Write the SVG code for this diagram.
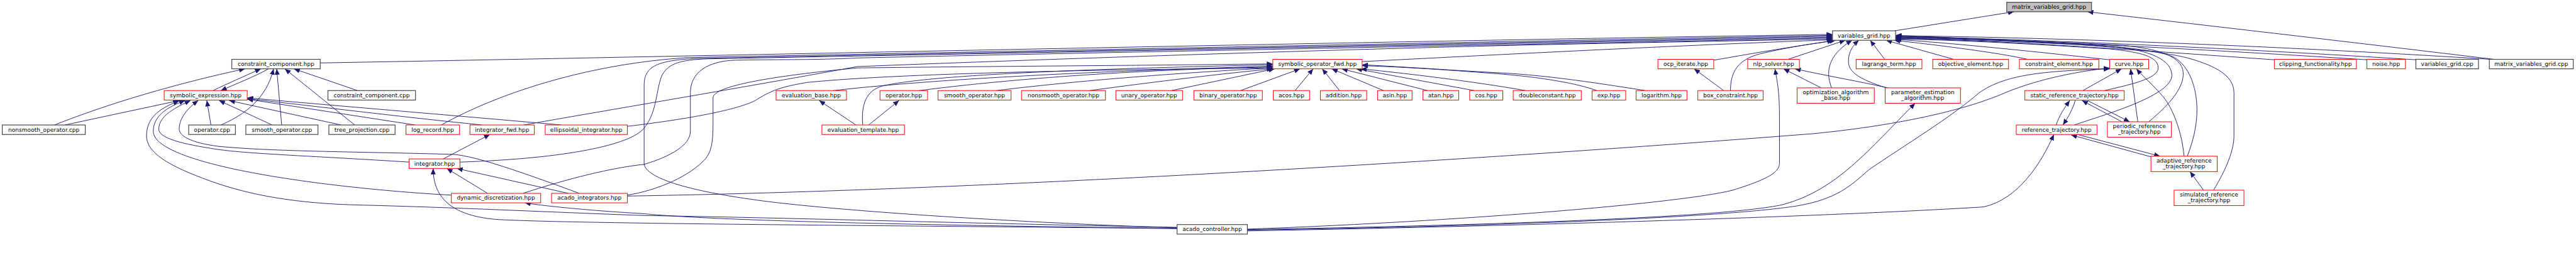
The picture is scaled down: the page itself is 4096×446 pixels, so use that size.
<svg xmlns="http://www.w3.org/2000/svg" width="4096" height="446" viewBox="0 0 4096 446">
<defs>
<marker id="ah" markerUnits="userSpaceOnUse" markerWidth="14" markerHeight="11" refX="13" refY="5.5" orient="auto"><path d="M0,0 L13,5.5 L0,11 z" fill="#191970"/></marker>
<style>
.nd rect{fill:#fff;stroke:#ff0000;stroke-width:1.4}
.nd.k rect{stroke:#404040;stroke-width:1.6}
.nd.root rect{fill:#bfbfbf;stroke:#404040;stroke-width:1.6}
.nd text{font-family:"DejaVu Sans","Liberation Sans",sans-serif;font-size:12.6px;text-anchor:middle;fill:#000}
#edges path{fill:none;stroke:#191970;stroke-width:1.3;marker-end:url(#ah)}
</style>
</defs>
<rect width="4096" height="446" fill="#fff"/>
<g transform="scale(0.72125)">
<g id="edges">
<path d="M4177,68 C4260,55 4350,40 4440,26"/>
<path d="M5498,131 C5200,95 4900,60 4602,26"/>
<path d="M706,139 C1500,125 3000,92 4040,76"/>
<path d="M973,276 C1100,205 1300,140 1520,127 C2300,112 3300,92 4040,78"/>
<path d="M2595,503 C2300,494 1900,470 1700,446 C1530,425 1420,395 1420,360 L1420,190 C1420,150 1440,133 1540,129 C2300,114 3300,95 4040,80"/>
<path d="M1014,358 C1250,350 1390,320 1420,283 C1450,245 1445,200 1460,165 C1475,140 1500,132 1560,130 C2300,116 3300,97 4040,82"/>
<path d="M1153,427 C1250,395 1350,370 1420,363 C1480,345 1522,320 1522,290 L1522,205 C1522,160 1560,135 1620,133 C1700,131 1800,133 1890,128 C2600,112 3400,98 4040,84"/>
<path d="M1155,276 C1300,250 1600,200 1890,147 C2300,131 2800,114 3300,101 C3600,94 3900,89 4040,86"/>
<path d="M3003,136 C3300,121 3700,100 4040,88"/>
<path d="M3778,133 C3880,115 3970,100 4042,90"/>
<path d="M3815,200 C3815,160 3830,132 3880,119 C3950,102 4010,95 4047,89"/>
<path d="M3800,200 L3735,152"/>
<path d="M3942,131 L4068,89"/>
<path d="M4015,194 L3932,152"/>
<path d="M4038,194 C4020,150 4040,115 4083,89"/>
<path d="M4162,194 C4100,180 4030,168 3957,152"/>
<path d="M4158,194 C4100,175 4075,160 4075,135 C4075,115 4085,100 4098,89"/>
<path d="M4155,131 L4123,89"/>
<path d="M4307,131 L4158,89"/>
<path d="M4470,131 C4400,115 4250,97 4176,89"/>
<path d="M4651,132 C4450,110 4300,95 4179,87"/>
<path d="M5014,132 C4700,110 4400,88 4179,85"/>
<path d="M5218,132 C4800,105 4400,86 4179,83"/>
<path d="M5327,132 C4900,105 4450,85 4179,81"/>
<path d="M5490,131 C5000,100 4500,82 4179,79"/>
<path d="M4640,200 C4690,188 4758,175 4758,150 C4758,125 4720,115 4650,108 C4450,95 4300,88 4179,86"/>
<path d="M4573,276 C4650,250 4790,210 4788,165 C4786,125 4720,108 4650,102 C4450,92 4300,86 4179,84"/>
<path d="M4737,269 C4790,225 4815,190 4813,160 C4811,125 4760,108 4680,100 C4450,88 4300,84 4179,82"/>
<path d="M4822,345 C4840,300 4845,260 4843,230 C4840,180 4820,140 4790,125 C4740,105 4600,93 4179,80"/>
<path d="M4880,420 C4910,370 4925,330 4925,300 L4925,205 C4925,165 4880,145 4830,130 C4760,110 4600,95 4179,78"/>
<path d="M4592,200 L4677,152"/>
<path d="M4713,269 L4697,152"/>
<path d="M4815,345 C4810,290 4790,240 4770,215 C4745,185 4725,170 4710,152"/>
<path d="M1383,433 C2200,420 3300,350 4000,295 C4200,275 4340,240 4420,205 C4480,180 4560,160 4651,150"/>
<path d="M2750,508 C3300,500 3800,480 3960,455 C4050,440 4080,410 4120,375 C4200,320 4300,260 4363,205 C4420,165 4500,157 4651,152"/>
<path d="M2750,507 C3300,497 3800,480 3930,452 C4050,420 4120,330 4222,228"/>
<path d="M2750,506 C3200,490 3700,450 3820,420 C3900,395 3923,380 3923,360 L3923,260 C3923,200 3918,180 3913,152"/>
<path d="M2750,510 C3300,500 4000,480 4373,457 C4450,440 4500,360 4528,297"/>
<path d="M4533,276 C4540,255 4550,240 4563,222"/>
<path d="M4575,222 C4570,240 4560,258 4548,276"/>
<path d="M4678,269 L4590,222"/>
<path d="M4602,222 L4695,269"/>
<path d="M4580,297 L4762,345"/>
<path d="M4748,348 L4566,298"/>
<path d="M4858,420 L4828,379"/>
<path d="M143,276 L395,222"/>
<path d="M120,276 C300,205 480,165 540,152"/>
<path d="M470,200 C500,185 540,168 575,152"/>
<path d="M592,152 C560,170 520,185 487,200"/>
<path d="M487,276 C560,245 592,200 603,152"/>
<path d="M621,276 L610,152"/>
<path d="M782,276 L628,152"/>
<path d="M788,200 L648,152"/>
<path d="M600,276 L483,222"/>
<path d="M752,276 L505,222"/>
<path d="M915,276 L545,219"/>
<path d="M1063,276 C900,260 700,235 545,218"/>
<path d="M1237,276 C1000,255 700,230 545,216"/>
<path d="M465,276 L456,222"/>
<path d="M2595,502 C2200,495 1700,480 1420,476 C1200,468 1000,458 800,453 C650,450 550,430 470,402 C380,370 323,340 323,300 C323,255 360,236 395,223"/>
<path d="M995,431 C800,420 600,395 480,365 C400,345 338,320 338,290 C338,255 370,236 408,222"/>
<path d="M902,358 C700,345 550,340 480,330 C400,318 350,305 350,285 C350,255 390,236 420,222"/>
<path d="M1277,427 C1150,380 1050,345 1000,341 C800,335 600,335 480,323 C420,315 395,300 395,285 C395,260 415,238 437,222"/>
<path d="M977,351 L1080,297"/>
<path d="M1075,427 L985,372"/>
<path d="M1253,427 L1007,372"/>
<path d="M2595,505 C2000,498 1300,495 1100,485 C1000,478 955,440 955,372"/>
<path d="M2595,504 C2200,500 1600,490 1420,472 C1300,465 1200,455 1157,448"/>
<path d="M1887,276 L1806,222"/>
<path d="M1915,276 L1982,222"/>
<path d="M1902,276 C1898,230 1910,200 1945,190 C2050,165 2400,152 2806,143"/>
<path d="M1838,200 C2100,170 2500,155 2806,146"/>
<path d="M2027,200 C2300,165 2600,152 2806,148"/>
<path d="M2197,200 C2400,175 2650,158 2806,150"/>
<path d="M2403,200 C2550,180 2700,162 2806,152"/>
<path d="M2583,200 L2810,152"/>
<path d="M2735,200 L2866,152"/>
<path d="M2855,200 L2895,152"/>
<path d="M2953,200 L2915,152"/>
<path d="M3050,200 L2936,152"/>
<path d="M3147,200 L2958,152"/>
<path d="M3250,200 L2990,152"/>
<path d="M3363,200 C3250,180 3100,162 3000,152"/>
<path d="M3520,200 C3480,185 3400,170 3290,162 C3200,155 3100,148 3003,145"/>
<path d="M3627,200 C3500,180 3400,165 3290,160 C3200,155 3100,148 3003,143"/>
<path d="M1383,279 C1500,265 1620,245 1665,222 C1700,200 1720,192 1780,182 C2000,160 2500,153 2806,150"/>
<path d="M1383,431 C1450,420 1520,390 1556,350 C1572,330 1572,300 1572,260 L1572,215 C1575,190 1700,168 1890,150 C2200,146 2500,145 2806,141"/>
</g>
<g id="n1" class="nd root"><rect x="4424" y="5" width="187" height="21"/><text x="4517.5" y="19.5">matrix_variables_grid.hpp</text></g>
<g id="n2" class="nd k"><rect x="4040" y="68" width="139" height="21"/><text x="4109.5" y="82.5">variables_grid.hpp</text></g>
<g id="n3" class="nd k"><rect x="511" y="131" width="195" height="21"/><text x="608.5" y="145.5">constraint_component.hpp</text></g>
<g id="n4" class="nd"><rect x="2806" y="131" width="197" height="21"/><text x="2904.5" y="145.5">symbolic_operator_fwd.hpp</text></g>
<g id="n5" class="nd"><rect x="3655" y="131" width="123" height="21"/><text x="3716.5" y="145.5">ocp_iterate.hpp</text></g>
<g id="n6" class="nd"><rect x="3853" y="131" width="114" height="21"/><text x="3910" y="145.5">nlp_solver.hpp</text></g>
<g id="n7" class="nd"><rect x="4092" y="131" width="145" height="21"/><text x="4164.5" y="145.5">lagrange_term.hpp</text></g>
<g id="n8" class="nd"><rect x="4261" y="131" width="167" height="21"/><text x="4344.5" y="145.5">objective_element.hpp</text></g>
<g id="n9" class="nd"><rect x="4452" y="131" width="175" height="21"/><text x="4539.5" y="145.5">constraint_element.hpp</text></g>
<g id="n10" class="nd"><rect x="4651" y="131" width="86" height="21"/><text x="4694" y="145.5">curve.hpp</text></g>
<g id="n11" class="nd"><rect x="5014" y="131" width="181" height="21"/><text x="5104.5" y="145.5">clipping_functionality.hpp</text></g>
<g id="n12" class="nd"><rect x="5218" y="131" width="85" height="21"/><text x="5260.5" y="145.5">noise.hpp</text></g>
<g id="n13" class="nd k"><rect x="5326" y="131" width="138" height="21"/><text x="5395" y="145.5">variables_grid.cpp</text></g>
<g id="n14" class="nd k"><rect x="5488" y="131" width="185" height="21"/><text x="5580.5" y="145.5">matrix_variables_grid.cpp</text></g>
<g id="n15" class="nd"><rect x="362" y="200" width="183" height="21"/><text x="453.5" y="214.5">symbolic_expression.hpp</text></g>
<g id="n16" class="nd k"><rect x="723" y="200" width="193" height="21"/><text x="819.5" y="214.5">constraint_component.cpp</text></g>
<g id="n17" class="nd"><rect x="1711" y="200" width="155" height="21"/><text x="1788.5" y="214.5">evaluation_base.hpp</text></g>
<g id="n18" class="nd"><rect x="1940" y="200" width="105" height="21"/><text x="1992.5" y="214.5">operator.hpp</text></g>
<g id="n19" class="nd"><rect x="2068" y="200" width="161" height="21"/><text x="2148.5" y="214.5">smooth_operator.hpp</text></g>
<g id="n20" class="nd"><rect x="2252" y="200" width="185" height="21"/><text x="2344.5" y="214.5">nonsmooth_operator.hpp</text></g>
<g id="n21" class="nd"><rect x="2460" y="200" width="147" height="21"/><text x="2533.5" y="214.5">unary_operator.hpp</text></g>
<g id="n22" class="nd"><rect x="2632" y="200" width="151" height="21"/><text x="2707.5" y="214.5">binary_operator.hpp</text></g>
<g id="n23" class="nd"><rect x="2807" y="200" width="80" height="21"/><text x="2847" y="214.5">acos.hpp</text></g>
<g id="n24" class="nd"><rect x="2911" y="200" width="102" height="21"/><text x="2962" y="214.5">addition.hpp</text></g>
<g id="n25" class="nd"><rect x="3037" y="200" width="76" height="21"/><text x="3075" y="214.5">asin.hpp</text></g>
<g id="n26" class="nd"><rect x="3137" y="200" width="79" height="21"/><text x="3176.5" y="214.5">atan.hpp</text></g>
<g id="n27" class="nd"><rect x="3240" y="200" width="73" height="21"/><text x="3276.5" y="214.5">cos.hpp</text></g>
<g id="n28" class="nd"><rect x="3336" y="200" width="150" height="21"/><text x="3411" y="214.5">doubleconstant.hpp</text></g>
<g id="n29" class="nd"><rect x="3510" y="200" width="74" height="21"/><text x="3547" y="214.5">exp.hpp</text></g>
<g id="n30" class="nd"><rect x="3607" y="200" width="112" height="21"/><text x="3663" y="214.5">logarithm.hpp</text></g>
<g id="n31" class="nd"><rect x="3743" y="200" width="144" height="21"/><text x="3815" y="214.5">box_constraint.hpp</text></g>
<g id="n32" class="nd"><rect x="3962" y="194" width="170" height="34"/><text x="4047" y="208">optimization_algorithm</text><text x="4047" y="221">_base.hpp</text></g>
<g id="n33" class="nd"><rect x="4156" y="194" width="166" height="34"/><text x="4239" y="208">parameter_estimation</text><text x="4239" y="221">_algorithm.hpp</text></g>
<g id="n34" class="nd"><rect x="4464" y="200" width="219" height="21"/><text x="4573.5" y="214.5">static_reference_trajectory.hpp</text></g>
<g id="n35" class="nd k"><rect x="5" y="276" width="183" height="21"/><text x="96.5" y="290.5">nonsmooth_operator.cpp</text></g>
<g id="n36" class="nd k"><rect x="416" y="276" width="103" height="21"/><text x="467.5" y="290.5">operator.cpp</text></g>
<g id="n37" class="nd k"><rect x="542" y="276" width="159" height="21"/><text x="621.5" y="290.5">smooth_operator.cpp</text></g>
<g id="n38" class="nd k"><rect x="725" y="276" width="146" height="21"/><text x="798" y="290.5">tree_projection.cpp</text></g>
<g id="n39" class="nd"><rect x="895" y="276" width="118" height="21"/><text x="954" y="290.5">log_record.hpp</text></g>
<g id="n40" class="nd"><rect x="1036" y="276" width="142" height="21"/><text x="1107" y="290.5">integrator_fwd.hpp</text></g>
<g id="n41" class="nd"><rect x="1202" y="276" width="181" height="21"/><text x="1292.5" y="290.5">ellipsoidal_integrator.hpp</text></g>
<g id="n42" class="nd"><rect x="1812" y="276" width="182" height="21"/><text x="1903" y="290.5">evaluation_template.hpp</text></g>
<g id="n43" class="nd"><rect x="4445" y="276" width="178" height="21"/><text x="4534" y="290.5">reference_trajectory.hpp</text></g>
<g id="n44" class="nd"><rect x="4646" y="269" width="141" height="34"/><text x="4716.5" y="283">periodic_reference</text><text x="4716.5" y="296">_trajectory.hpp</text></g>
<g id="n45" class="nd"><rect x="902" y="351" width="112" height="21"/><text x="958" y="365.5">integrator.hpp</text></g>
<g id="n46" class="nd"><rect x="4742" y="345" width="146" height="34"/><text x="4815" y="359">adaptive_reference</text><text x="4815" y="372">_trajectory.hpp</text></g>
<g id="n47" class="nd"><rect x="995" y="427" width="197" height="21"/><text x="1093.5" y="441.5">dynamic_discretization.hpp</text></g>
<g id="n48" class="nd"><rect x="1216" y="427" width="167" height="21"/><text x="1299.5" y="441.5">acado_integrators.hpp</text></g>
<g id="n49" class="nd"><rect x="4793" y="420" width="154" height="34"/><text x="4870" y="434">simulated_reference</text><text x="4870" y="447">_trajectory.hpp</text></g>
<g id="n50" class="nd k"><rect x="2595" y="496" width="155" height="21"/><text x="2672.5" y="510.5">acado_controller.hpp</text></g>
</g>
</svg>
